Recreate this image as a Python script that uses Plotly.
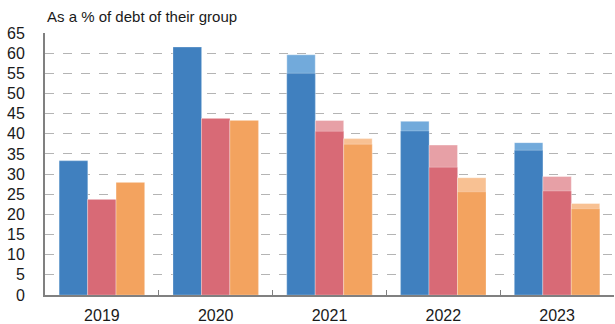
import plotly.graph_objects as go

years = ["2019", "2020", "2021", "2022", "2023"]
blue_total = [33.3, 61.5, 59.6, 43.1, 37.8]
blue_base = [33.3, 61.5, 55.0, 40.7, 35.9]
red_total = [23.7, 43.8, 43.3, 37.2, 29.4]
red_base = [23.7, 43.8, 40.6, 31.7, 25.8]
orange_total = [27.9, 43.3, 38.8, 29.1, 22.7]
orange_base = [27.9, 43.3, 37.4, 25.6, 21.4]
y_ticks = list(range(0, 66, 5))

series = [
    ("blue", blue_total, blue_base, "rgb(114,170,219)", "rgb(64,128,191)"),
    ("red", red_total, red_base, "rgb(231,160,166)", "rgb(216,106,118)"),
    ("orange", orange_total, orange_base, "rgb(248,193,147)", "rgb(243,163,95)"),
]

fig = go.Figure()
for name, tot, base, light, dark in series:
    fig.add_bar(x=years, y=tot, offsetgroup=name, marker=dict(color=light, line=dict(width=0.6, color="rgba(255,255,255,0.6)")), showlegend=False)
    fig.add_bar(x=years, y=base, offsetgroup=name, marker=dict(color=dark, line=dict(width=0.6, color="rgba(255,255,255,0.4)")), showlegend=False)

fig.update_layout(
    width=615, height=324,
    margin=dict(l=45, r=1, t=33, b=29),
    barmode="group", bargap=0.25, bargroupgap=0,
    plot_bgcolor="white", paper_bgcolor="white",
    font=dict(family="Liberation Sans, Arial, sans-serif", size=16, color="#1a1a1a"),
    annotations=[dict(text="As a % of debt of their group", xref="paper", yref="paper",
                      x=0, y=1, yshift=6, xanchor="left", yanchor="bottom",
                      showarrow=False, font=dict(size=15, color="#1a1a1a"))],
)
fig.update_yaxes(range=[0, 65], tickvals=y_ticks, showgrid=True, gridcolor="#b4b4b4",
                 griddash="dash", gridwidth=1, showline=True, linecolor="#808080", linewidth=2,
                 ticks="", ticklabelstandoff=15, zeroline=False, automargin=False)
fig.update_xaxes(showline=True, linecolor="#808080", linewidth=2, ticks="inside",
                 tickson="boundaries", ticklen=5, tickcolor="#808080", ticklabelstandoff=5,
                 automargin=False)

fig.write_html("out.html")
